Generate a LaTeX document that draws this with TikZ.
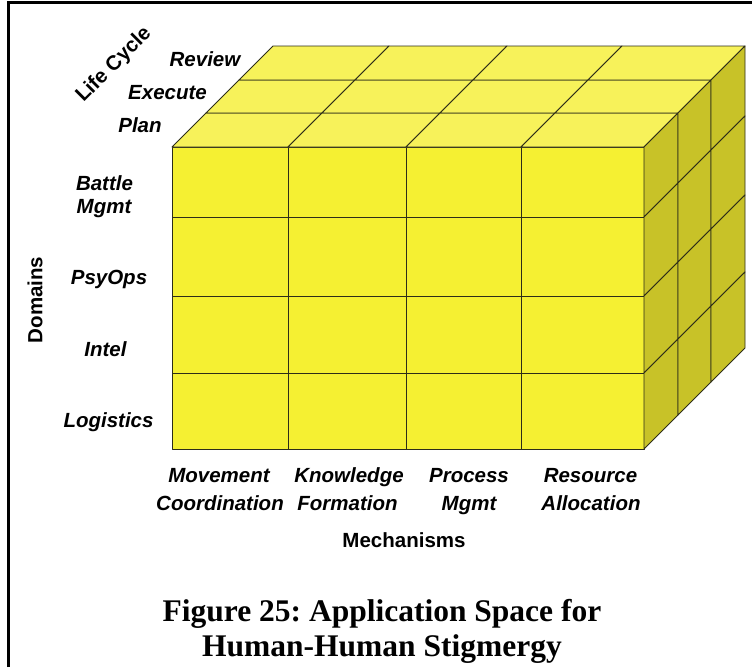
\documentclass[tikz,border=0pt]{standalone}
\usepackage{fontspec}
\setmainfont{Liberation Serif}
\newfontfamily\arialf{Liberation Sans}
\frenchspacing
\definecolor{frontY}{RGB}{245,240,50}
\definecolor{topY}{RGB}{247,242,90}
\definecolor{sideY}{RGB}{200,194,40}
\definecolor{edgeC}{RGB}{45,45,25}
\tikzset{
  lab/.style={font=\arialf\bfseries\itshape\fontsize{20.5}{29}\selectfont, anchor=base, inner sep=0pt},
  axislab/.style={font=\arialf\bfseries\fontsize{20.5}{29}\selectfont, inner sep=0pt},
  ttl/.style={font=\bfseries\fontsize{31.5}{35}\selectfont, anchor=base, inner sep=0pt},
  cell/.style={draw=edgeC, line width=0.9pt, line join=round},
}
\begin{document}
\begin{tikzpicture}[x=1pt,y=-1pt]
\useasboundingbox (0,0) rectangle (752,667);
% frame
\draw[line width=2.6pt] (8.7,667) -- (8.7,2.7) -- (752,2.7);
% front face
\foreach \xa/\xb in {172/288,288/406,406/521,521/644}{
  \foreach \ya/\yb in {147/217,217/296,296/373,373/449}{
    \filldraw[cell, fill=frontY] (\xa,\ya) rectangle (\xb,\yb);
  }
}
% top face
\foreach \xa/\xb in {172/288,288/406,406/521,521/644}{
  \foreach \da/\db in {0/34,34/67,67/101}{
    \filldraw[cell, fill=topY] (\xa+\da,147-\da) -- (\xb+\da,147-\da) -- (\xb+\db,147-\db) -- (\xa+\db,147-\db) -- cycle;
  }
}
% right face
\foreach \ya/\yb in {147/217,217/296,296/373,373/449}{
  \foreach \da/\db in {0/34,34/67,67/101}{
    \filldraw[cell, fill=sideY] (644+\da,\ya-\da) -- (644+\db,\ya-\db) -- (644+\db,\yb-\db) -- (644+\da,\yb-\da) -- cycle;
  }
}
% life cycle labels
\node[axislab, rotate=45] (lc) at (114,65) {Life Cycle};
\node[lab] (rev) at (205,66.5) {Review};
\node[lab] (exe) at (167.5,99) {Execute};
\node[lab] (pla) at (140,132) {Plan};
% domain labels
\node[axislab, rotate=90] (dom) at (35,300) {Domains};
\node[lab] (bat1) at (104.5,190) {Battle};
\node[lab] (bat2) at (104,213) {Mgmt};
\node[lab] (psy) at (109,284) {PsyOps};
\node[lab] (int) at (105.5,356) {Intel};
\node[lab] (log) at (108.5,427) {Logistics};
% mechanism labels
\node[lab] (m1a) at (219,482) {Movement};
\node[lab] (m1b) at (220,510) {Coordination};
\node[lab] (m2a) at (349,482) {Knowledge};
\node[lab] (m2b) at (347.5,510) {Formation};
\node[lab] (m3a) at (469,482) {Process};
\node[lab] (m3b) at (469,510) {Mgmt};
\node[lab] (m4a) at (590.5,482) {Resource};
\node[lab] (m4b) at (591,510) {Allocation};
\node[axislab, anchor=base] (mech) at (404,547) {Mechanisms};
% title
\node[ttl] (t1) at (382,621) {Figure 25: Application Space for};
\node[ttl] (t2) at (382,656) {Human-Human Stigmergy};
\end{tikzpicture}
\end{document}
